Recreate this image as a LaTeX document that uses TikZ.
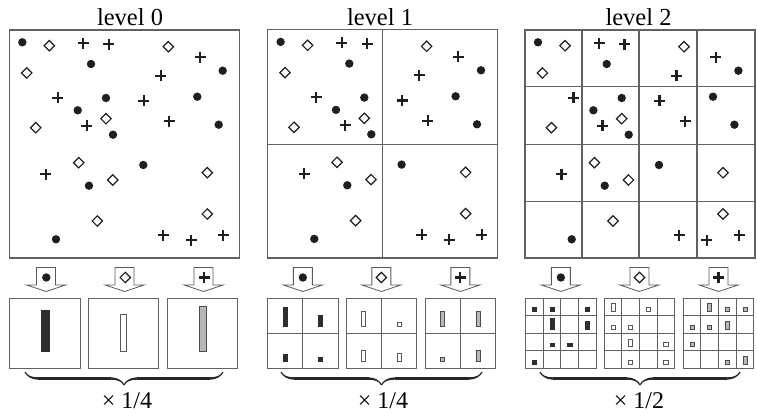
\documentclass[tikz,border=0pt]{standalone}
\usepackage{fontspec}
\setmainfont{Liberation Serif}
\usetikzlibrary{decorations.pathreplacing,calligraphy}
\tikzset{
  frame/.style={draw=black!62, line width=1.2pt},
  gridl/.style={draw=black!62, line width=1.1pt},
  dotm/.style={fill=black!88},
  diam/.style={draw=black!88, line width=1.2pt, fill=white},
  plusm/.style={draw=black!88, line width=2.2pt},
  hbox/.style={draw=black!62, line width=0.9pt},
  hgrid/.style={draw=black!62, line width=0.9pt},
  barA/.style={fill=black!82, draw=black!82, line width=0.4pt},
  barB/.style={fill=white, draw=black!65, line width=0.8pt},
  barC/.style={fill=black!28, draw=black!70, line width=0.8pt},
  blockarrow/.style={draw=black!65, line width=0.8pt, fill=white},
  title/.style={font=\fontsize{24.5}{26}\selectfont, anchor=base, inner sep=0pt},
  factor/.style={font=\fontsize{24}{26}\selectfont, anchor=base, inner sep=0pt},
  bracestyle/.style={decorate, decoration={calligraphic brace, amplitude=13pt, mirror}, line width=2.4pt, pen colour={black!85}},
}
\newcommand\mdot[2]{\fill[dotm] (#1,#2) circle (4.2pt);}
\newcommand\mdiam[2]{\draw[diam] (#1,#2) +(0,-5.2) -- +(5.2,0) -- +(0,5.2) -- +(-5.2,0) -- cycle;}
\newcommand\mplus[2]{\draw[plusm] (#1,#2) +(-5.5,0) -- +(5.5,0) +(0,-5.5) -- +(0,5.5);}
\newcommand\drawpoints{%
  \foreach \a/\b in {13/12.3, 81.7/34, 213.4/40.7, 96.7/68, 188/66.7, 68.4/80.3, 209.4/94.7, 103.7/104.7, 134/135, 79.7/155.7, 46.7/209.3}
    {\mdot{\a}{\b}}
  \foreach \a/\b in {40/15.7, 159/16.7, 17.4/43, 96.7/88.7, 26.4/97.7, 69.4/132.7, 103.4/150, 198/142.7, 88/191, 198/184}
    {\mdiam{\a}{\b}}
  \foreach \a/\b in {74/13.3, 99.4/14.3, 190.7/27.3, 151.4/45.7, 48.4/67.7, 134.4/71, 77.4/95.7, 160/91.3, 36.4/144.3, 154/205, 181.7/210, 214/205.3}
    {\mplus{\a}{\b}}
}
% #1 box left, #2 cells per side, #3 list col/row/count, #4 bar style, #5 bar width, #6 bottom offset
\newcommand\bars[6]{%
  \foreach \cc/\rr/\nn in {#3}
    {\draw[#4] ({#1+(\cc+0.5)*70.5/#2-#5/2},{298+(\rr+1)*70.5/#2-#6}) rectangle ++(#5,{-3.75*\nn});}
}
\newcommand\barrow[1]{\draw[blockarrow] (#1-9.5,267.5) -- (#1+9.5,267.5) -- (#1+9.5,285) -- (#1+19.5,285) -- (#1,291.5) -- (#1-19.5,285) -- (#1-9.5,285) -- cycle;}
\newcommand\gridtwo[1]{\draw[hgrid] (#1+35.25,298) -- ++(0,70.5) (#1,333.25) -- ++(70.5,0);}
\newcommand\gridfour[1]{\draw[hgrid] (#1+17.625,298) -- ++(0,70.5) (#1+35.25,298) -- ++(0,70.5) (#1+52.875,298) -- ++(0,70.5)
  (#1,315.625) -- ++(70.5,0) (#1,333.25) -- ++(70.5,0) (#1,350.875) -- ++(70.5,0);}
\begin{document}
\begin{tikzpicture}[x=1pt,y=-1pt]
\useasboundingbox (0,0) rectangle (757,414);

% titles
\node[title] (t0) at (130,26) {level 0};
\node[title] (t1) at (380,26) {level 1};
\node[title] (t2) at (638.5,26) {level 2};

% panels
\begin{scope}[shift={(9.3,30)}]
  \drawpoints
  \draw[frame] (0,0) rectangle (230,228);
\end{scope}
\begin{scope}[shift={(267.6,29.6)}]
  \drawpoints
  \draw[gridl] (115,0) -- (115,228) (0,115) -- (230,115);
  \draw[frame] (0,0) rectangle (230,228.4);
\end{scope}
\begin{scope}[shift={(525,30)}]
  \drawpoints
  \draw[gridl] (57,0) -- (57,228) (114,0) -- (114,228) (172,0) -- (172,228)
               (0,56.3) -- (230,56.3) (0,114.7) -- (230,114.7) (0,171.7) -- (230,171.7);
  \draw[frame] (0,0) rectangle (230,228);
\end{scope}

% ---------- level 0 histograms
\foreach \bx in {9.8, 88.3, 167.3} {\barrow{\bx+35.25+1}}
\mdot{46.3}{277.5} \mdiam{125.3}{277.5} \mplus{204.3}{277.5}
\draw[hbox] (9.8,298) rectangle ++(70.5,70.5);
\draw[hbox] (88.3,298) rectangle ++(70.5,70.5);
\draw[hbox] (167.3,298) rectangle ++(70.5,70.5);
\bars{9.8}{1}{0/0/11}{barA}{7.8}{17}
\bars{88.3}{1}{0/0/10}{barB}{6.6}{17}
\bars{167.3}{1}{0/0/12}{barC}{7.2}{17}
\draw[bracestyle] (25,372) -- (223,372);
\node[factor] (f0) at (127,408) {× 1/4};

% ---------- level 1 histograms
\foreach \bx in {267.6, 346.1, 425.1} {\barrow{\bx+35.25}}
\mdot{302.85}{277.5} \mdiam{381.35}{277.5} \mplus{460.35}{277.5}
\gridtwo{267.6} \gridtwo{346.1} \gridtwo{425.1}
\draw[hbox] (267.6,298) rectangle ++(70.5,70.5);
\draw[hbox] (346.1,298) rectangle ++(70.5,70.5);
\draw[hbox] (425.1,298) rectangle ++(70.5,70.5);
\bars{267.6}{2}{0/0/5, 1/0/3, 0/1/2, 1/1/1}{barA}{4.2}{7.2}
\bars{346.1}{2}{0/0/4, 1/0/1, 0/1/3, 1/1/2}{barB}{4}{7.2}
\bars{425.1}{2}{0/0/4, 1/0/4, 0/1/1, 1/1/3}{barC}{4}{7.2}
\draw[bracestyle] (281,372) -- (482,372);
\node[factor] (f1) at (383,408) {× 1/4};

% ---------- level 2 histograms
\foreach \bx in {525.6, 604.2, 683.3} {\barrow{\bx+35.25}}
\mdot{560.85}{277.5} \mdiam{639.45}{277.5} \mplus{718.55}{277.5}
\gridfour{525.6} \gridfour{604.2} \gridfour{683.3}
\draw[hbox] (525.6,298) rectangle ++(70.5,70.5);
\draw[hbox] (604.2,298) rectangle ++(70.5,70.5);
\draw[hbox] (683.3,298) rectangle ++(70.5,70.5);
\bars{525.6}{4}{0/0/1, 1/0/1, 3/0/1, 1/1/3, 3/1/2, 1/2/1, 2/2/1, 0/3/1}{barA}{4.3}{4.3}
\bars{604.2}{4}{0/0/2, 2/0/1, 0/1/1, 1/1/1, 1/2/2, 3/2/1, 1/3/1, 3/3/1}{barB}{4.1}{4.3}
\bars{683.3}{4}{1/0/2, 2/0/1, 3/0/1, 0/1/1, 1/1/1, 2/1/2, 0/2/1, 2/3/1, 3/3/2}{barC}{4.1}{4.3}
\draw[bracestyle] (540,372) -- (740,372);
\node[factor] (f2) at (639,408) {× 1/2};
\end{tikzpicture}
\end{document}
